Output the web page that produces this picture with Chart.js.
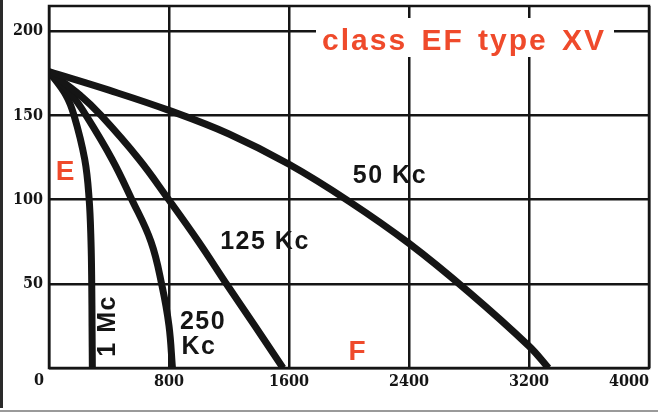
<!DOCTYPE html>
<html><head><meta charset="utf-8">
<script src="https://cdn.jsdelivr.net/npm/chart.js@4.4.1/dist/chart.umd.min.js"></script>
<style>html,body{margin:0;padding:0;background:#fff;}#wrap{width:658px;height:418px;position:relative}</style>
</head><body><div id="wrap"><canvas id="c" width="658" height="418"></canvas></div>
<script>
// ---- data ----
const xTickValues = [0, 800, 1600, 2400, 3200, 4000];
const yTickValues = [0, 50, 100, 150, 200];
const seriesNames = ['50 Kc', '125 Kc', '250 Kc', '1 Mc'];
const kc50X  = [0, 400, 800, 1200, 1600, 2000, 2400, 2800, 3200, 3330];
const kc50Y  = [176, 165, 153, 139, 121, 99, 74, 45, 13, 0];
const kc125X = [0, 207, 347, 600, 790, 997, 1190, 1373, 1560];
const kc125Y = [176, 162, 150, 124, 101, 75, 49, 25, 0];
const kc250X = [0, 153, 247, 420, 547, 680, 753, 800, 823];
const kc250Y = [176, 162, 150, 124, 101, 75, 49, 25, 0];
const mc1X   = [0, 113, 167, 238, 267, 280, 285, 287, 289];
const mc1Y   = [176, 162, 150, 124, 101, 75, 49, 25, 0];
const titleText = 'class EF type XV';
const axisLabelE = 'E';
const axisLabelF = 'F';

const RED = '#ef4a2b';
const INK = '#151515';

function pts(xs, ys){ return xs.map((x,i)=>({x:x, y:ys[i]})); }
const seriesX = [kc50X, kc125X, kc250X, mc1X];
const seriesY = [kc50Y, kc125Y, kc250Y, mc1Y];

const datasets = seriesNames.map((n,i)=>({
  label: n,
  data: pts(seriesX[i], seriesY[i]),
  borderColor: INK,
  borderWidth: 7,
  pointRadius: 0,
  fill: false,
  tension: 0.4,
  borderCapStyle: 'butt',
  borderJoinStyle: 'round'
}));

// label anchors in data coordinates
const LBL = 'bold 25px "Liberation Sans", Arial, sans-serif';
const textMarks = [
  {t: '50 Kc', x: 2273, y: 114, color: INK, font: LBL, sp: '1.5px'},
  {t: '125 Kc', x: 1440, y: 75, color: INK, font: LBL, sp: '1.5px'},
  {t: '250', x: 1027, y: 27, color: INK, font: LBL, sp: '1.5px'},
  {t: 'Kc', x: 1000, y: 12.5, color: INK, font: LBL, sp: '1.5px'},
  {t: '1 Mc', x: 393, y: 25, color: INK, font: LBL, sp: '1.5px', rot: true},
  {t: axisLabelE, x: 107, y: 116, color: RED, font: 'bold 28px "Liberation Sans", Arial, sans-serif', sp: '0px'},
  {t: axisLabelF, x: 2053, y: 9.5, color: RED, font: 'bold 28px "Liberation Sans", Arial, sans-serif', sp: '0px'}
];

const decor = {
  id: 'decor',
  beforeDraw(chart){
    const ctx = chart.ctx;
    ctx.save();
    ctx.fillStyle = '#fff';
    ctx.fillRect(0,0,chart.width,chart.height);
    ctx.fillStyle = '#2a2a2a';
    ctx.fillRect(0,0,3,408);
    ctx.fillStyle = '#9a9a9a';
    ctx.fillRect(0,410,chart.width,2);
    ctx.restore();
  },
  afterDatasetsDraw(chart){
    const ctx = chart.ctx, a = chart.chartArea;
    const xs = chart.scales.x, ys = chart.scales.y;
    ctx.save();
    // frame
    ctx.strokeStyle = INK; ctx.lineWidth = 2.5;
    ctx.strokeRect(a.left, a.top, a.right - a.left, a.bottom - a.top);
    // title box
    ctx.fillStyle = '#fff';
    ctx.fillRect(316, 18, 298, 39);
    ctx.fillStyle = RED;
    ctx.font = 'bold 30px "Liberation Sans", Arial, sans-serif';
    ctx.letterSpacing = '2px';
    try { ctx.wordSpacing = '4px'; } catch(e){}
    ctx.textAlign = 'left'; ctx.textBaseline = 'alphabetic';
    ctx.fillText(titleText, 322, 50);
    try { ctx.wordSpacing = '0px'; } catch(e){}
    // curve labels
    textMarks.forEach(m=>{
      const px = xs.getPixelForValue(m.x), py = ys.getPixelForValue(m.y);
      ctx.font = m.font; ctx.fillStyle = m.color; ctx.letterSpacing = m.sp;
      ctx.textAlign = 'center'; ctx.textBaseline = 'middle';
      if (m.rot){
        ctx.save(); ctx.translate(px, py); ctx.rotate(-Math.PI/2);
        ctx.fillText(m.t, 0, 0); ctx.restore();
      } else ctx.fillText(m.t, px, py);
    });
    // origin label
    ctx.letterSpacing = '0px';
    ctx.font = 'bold 16px "DejaVu Serif Condensed", "DejaVu Sans Condensed", serif';
    ctx.fillStyle = INK; ctx.textAlign = 'center'; ctx.textBaseline = 'middle';
    ctx.fillText('0', 39, 381);
    ctx.restore();
  }
};

const tickFont = {family: '"DejaVu Serif Condensed", "DejaVu Sans Condensed", serif', size: 16, weight: 'bold'};

new Chart(document.getElementById('c'), {
  type: 'line',
  data: {datasets},
  options: {
    responsive: false,
    animation: false,
    devicePixelRatio: 1,
    layout: {padding: {top: 6, right: 9, left: 0, bottom: 0}},
    plugins: {legend: {display: false}, tooltip: {enabled: false}},
    scales: {
      x: {
        type: 'linear', min: 0, max: 4000,
        afterBuildTicks(s){ s.ticks = xTickValues.map(v=>({value:v})); },
        afterFit(s){ s.height = 50; s.paddingLeft = 0; s.paddingRight = 0; },
        grid: {color: INK, lineWidth: 2.5, drawTicks: false},
        border: {display: false},
        ticks: {color: INK, font: tickFont, padding: 4, maxRotation: 0, autoSkip: false,
          align: 'inner',
          callback: v => v === 0 ? '' : String(v)}
      },
      y: {
        type: 'linear', min: 0, max: 215,
        afterBuildTicks(s){ s.ticks = yTickValues.map(v=>({value:v})); },
        afterFit(s){ s.width = 49; s.paddingTop = 0; s.paddingBottom = 0; },
        grid: {color: INK, lineWidth: 2.5, drawTicks: false},
        border: {display: false},
        ticks: {color: INK, font: tickFont, padding: 6, autoSkip: false,
          callback: v => v === 0 ? '' : String(v)}
      }
    }
  },
  plugins: [decor]
});
</script>
</body></html>
